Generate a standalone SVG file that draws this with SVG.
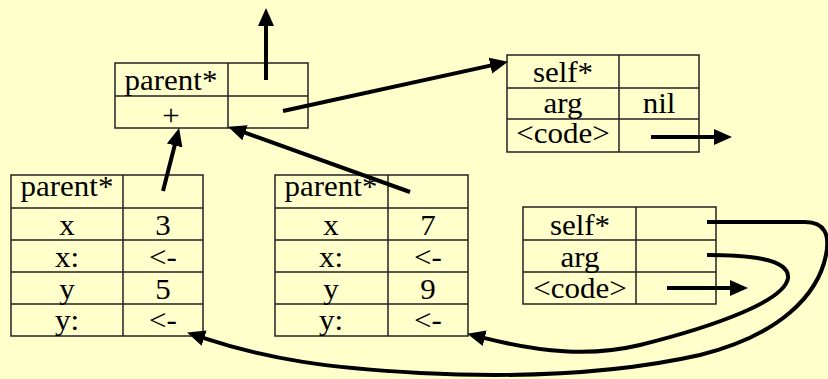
<svg xmlns="http://www.w3.org/2000/svg" width="828" height="379" viewBox="0 0 828 379">
<style>
.bx{fill:none;stroke:#222;stroke-width:1.5}
.t{font-family:"Liberation Serif","Times New Roman",serif;font-size:29.5px;fill:#000;text-anchor:middle}
.ar{fill:none;stroke:#000;stroke-width:4;marker-end:url(#ah)}
</style>
<defs>
<marker id="ah" markerUnits="userSpaceOnUse" markerWidth="20" markerHeight="18" refX="1" refY="8" orient="auto" viewBox="0 0 20 16">
<path d="M0,0 L18,8 L0,16 z" fill="#000"/>
</marker>
</defs>
<rect width="828" height="379" fill="#FFFFCC"/>

<g id="proto">
<rect class="bx" x="115" y="63" width="193" height="65"/>
<path class="bx" d="M115,96 H308 M228,63 V128"/>
<text class="t" transform="translate(171,90) scale(1.05,1)">parent*</text>
<text class="t" transform="translate(171,125) scale(1.05,1)">+</text>
</g>

<g id="method-top">
<rect class="bx" x="507" y="55" width="192" height="97"/>
<path class="bx" d="M507,88 H699 M507,119 H699 M619,55 V152"/>
<text class="t" transform="translate(563,82) scale(1.05,1)">self*</text>
<text class="t" transform="translate(563,113) scale(1.05,1)">arg</text>
<text class="t" transform="translate(659,113) scale(1.05,1)">nil</text>
<text class="t" transform="translate(563,143) scale(1.05,1)">&lt;code&gt;</text>
</g>

<g id="point1">
<rect class="bx" x="11" y="175" width="192" height="161"/>
<path class="bx" d="M11,208 H203 M11,240 H203 M11,272 H203 M11,304 H203 M123,175 V336"/>
<text class="t" transform="translate(67,196) scale(1.05,1)">parent*</text>
<text class="t" transform="translate(67,235) scale(1.05,1)">x</text>
<text class="t" transform="translate(163,235) scale(1.05,1)">3</text>
<text class="t" transform="translate(67,267) scale(1.05,1)">x:</text>
<text class="t" transform="translate(163,267) scale(1.05,1)">&lt;-</text>
<text class="t" transform="translate(67,299) scale(1.05,1)">y</text>
<text class="t" transform="translate(163,299) scale(1.05,1)">5</text>
<text class="t" transform="translate(67,330) scale(1.05,1)">y:</text>
<text class="t" transform="translate(163,330) scale(1.05,1)">&lt;-</text>
</g>

<g id="point2">
<rect class="bx" x="275" y="175" width="193" height="161"/>
<path class="bx" d="M275,208 H468 M275,240 H468 M275,272 H468 M275,304 H468 M388,175 V336"/>
<text class="t" transform="translate(331,196) scale(1.05,1)">parent*</text>
<text class="t" transform="translate(331,235) scale(1.05,1)">x</text>
<text class="t" transform="translate(428,235) scale(1.05,1)">7</text>
<text class="t" transform="translate(331,267) scale(1.05,1)">x:</text>
<text class="t" transform="translate(428,267) scale(1.05,1)">&lt;-</text>
<text class="t" transform="translate(331,299) scale(1.05,1)">y</text>
<text class="t" transform="translate(428,299) scale(1.05,1)">9</text>
<text class="t" transform="translate(331,330) scale(1.05,1)">y:</text>
<text class="t" transform="translate(428,330) scale(1.05,1)">&lt;-</text>
</g>

<g id="method-bottom">
<rect class="bx" x="523" y="207" width="193" height="97"/>
<path class="bx" d="M523,240 H716 M523,272 H716 M636,207 V304"/>
<text class="t" transform="translate(580,235) scale(1.05,1)">self*</text>
<text class="t" transform="translate(580,267) scale(1.05,1)">arg</text>
<text class="t" transform="translate(580,298) scale(1.05,1)">&lt;code&gt;</text>
</g>

<g id="connectors">
<path class="ar" d="M266,80 V25"/>
<path class="ar" d="M283,111 L491.4,65.4"/>
<path class="ar" d="M651,137 H715"/>
<path class="ar" d="M163,191 L174.9,144.5"/>
<path class="ar" d="M410,192 L244.1,132.4"/>
<path class="ar" d="M667,288 H731"/>
<path class="ar" d="M707,222 L805,222 C825,222 830,235 826,255 C818,295 780,335 700,355 C620,373 520,378 420,373 C330,368 270,360 203.2,337.9"/>
<path class="ar" d="M707,255 C745,255 790,258 788,278 C785,300 720,325 640,345 C590,357 540,352 483.7,337.9"/>
</g>
</svg>
